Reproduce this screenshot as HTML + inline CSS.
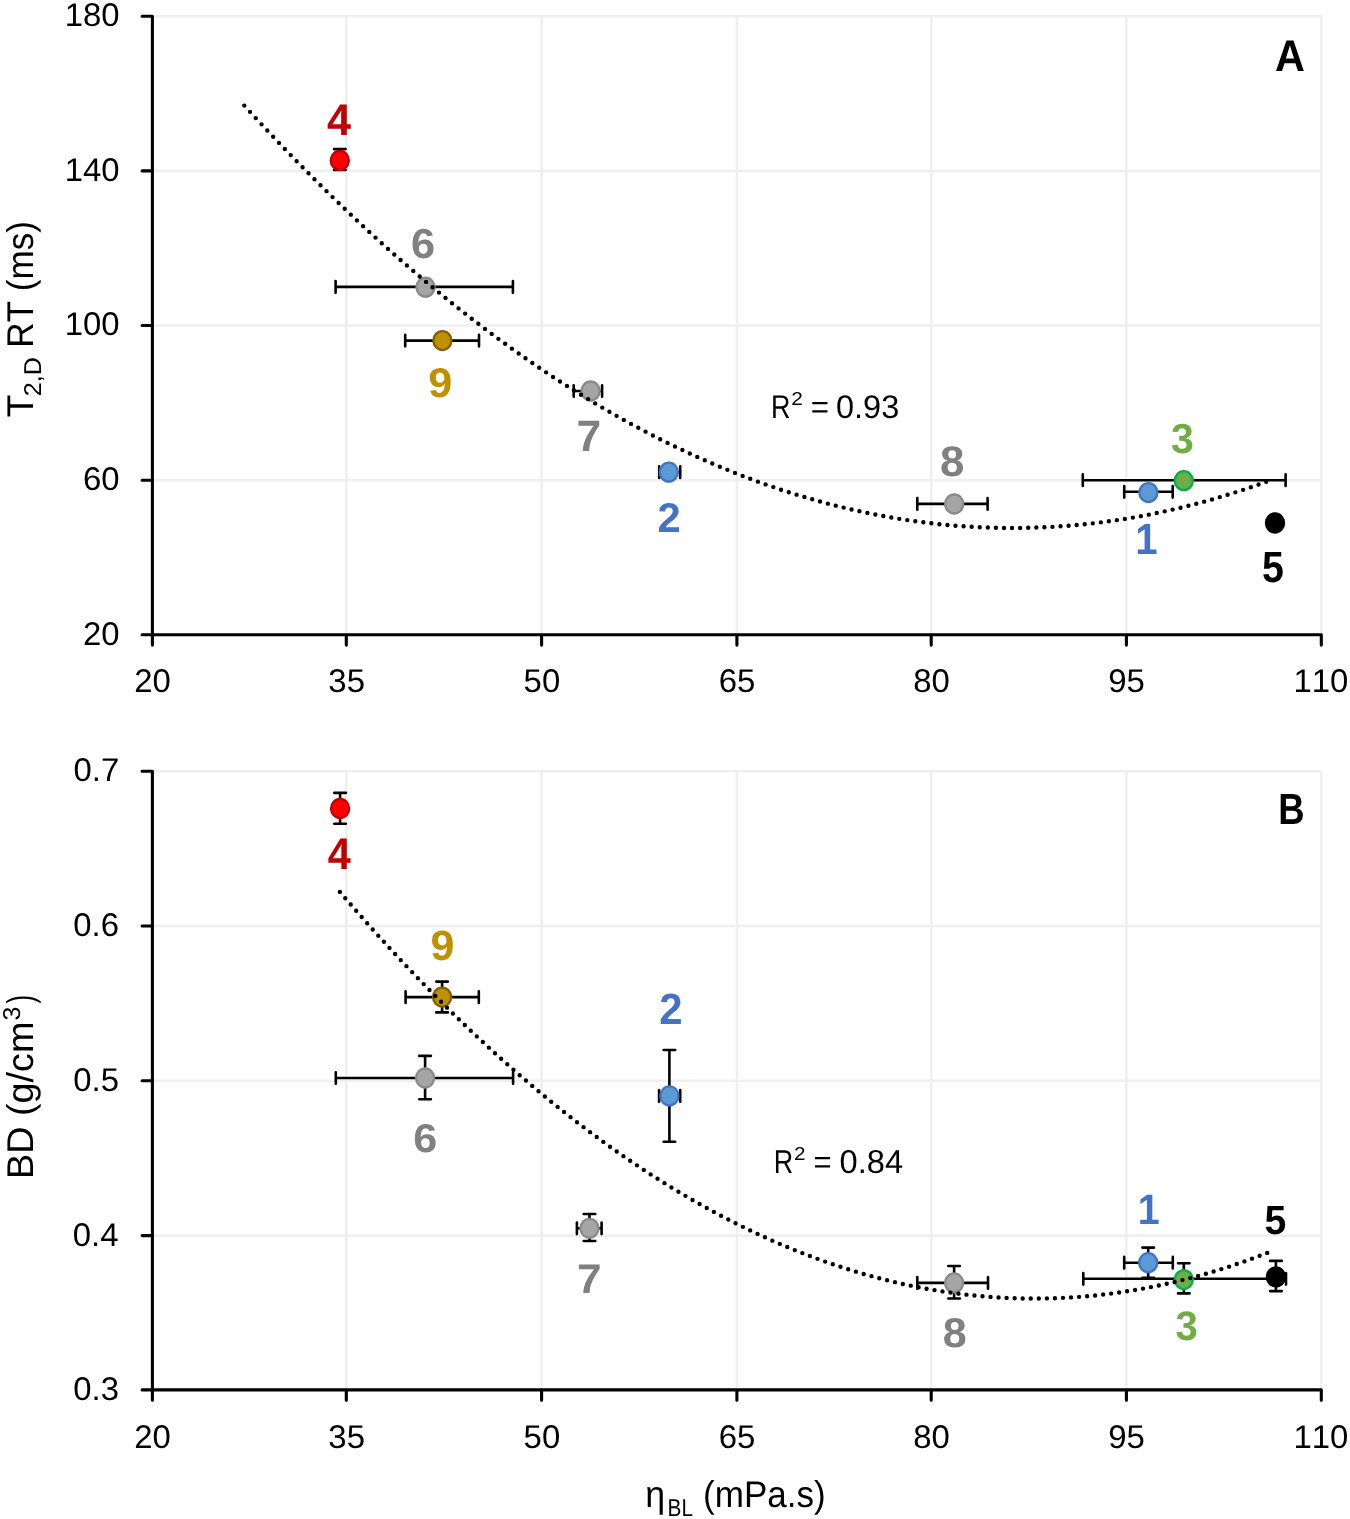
<!DOCTYPE html>
<html><head><meta charset="utf-8"><title>chart</title>
<style>html,body{margin:0;padding:0;background:#fff;width:1350px;height:1519px;overflow:hidden}
svg text{font-family:"Liberation Sans",sans-serif}</style></head>
<body><svg width="1350" height="1519" viewBox="0 0 1350 1519" style="display:block;will-change:transform;font-family:'Liberation Sans', sans-serif;font-kerning:none;text-rendering:geometricPrecision"><rect width="100%" height="100%" fill="#fff"/><path d="M346.30 16.20V634.80M541.60 16.20V634.80M736.90 16.20V634.80M931.20 16.20V634.80M1126.40 16.20V634.80M1321.30 16.20V634.80M152.40 16.20H1321.30M152.40 170.90H1321.30M152.40 325.45H1321.30M152.40 480.30H1321.30M346.30 771.30V1389.90M541.60 771.30V1389.90M736.90 771.30V1389.90M931.20 771.30V1389.90M1126.40 771.30V1389.90M1321.30 771.30V1389.90M152.40 771.30H1321.30M152.40 926.00H1321.30M152.40 1080.70H1321.30M152.40 1235.60H1321.30" stroke="#efefef" stroke-width="2.6" fill="none"/>
<path d="M142.10 16.20H152.40V645.10M142.10 634.80H1321.30V645.10M142.10 170.90H152.40M142.10 325.45H152.40M142.10 480.30H152.40M346.30 634.80V645.10M541.60 634.80V645.10M736.90 634.80V645.10M931.20 634.80V645.10M1126.40 634.80V645.10" stroke="#000" stroke-width="3.10" fill="none" stroke-linecap="round" stroke-linejoin="round"/>
<path d="M142.10 771.30H152.40V1400.20M142.10 1389.90H1321.30V1400.20M142.10 926.00H152.40M142.10 1080.70H152.40M142.10 1235.60H152.40M346.30 1389.90V1400.20M541.60 1389.90V1400.20M736.90 1389.90V1400.20M931.20 1389.90V1400.20M1126.40 1389.90V1400.20" stroke="#000" stroke-width="3.10" fill="none" stroke-linecap="round" stroke-linejoin="round"/>
<text transform="translate(134.22 692.18) scale(1.0000 1)" font-size="32.90" font-weight="normal" fill="#000">20</text>
<text transform="translate(134.22 1447.98) scale(1.0000 1)" font-size="32.90" font-weight="normal" fill="#000">20</text>
<text transform="translate(328.37 692.18) scale(1.0000 1)" font-size="32.90" font-weight="normal" fill="#000">35</text>
<text transform="translate(328.37 1447.98) scale(1.0000 1)" font-size="32.90" font-weight="normal" fill="#000">35</text>
<text transform="translate(523.59 692.18) scale(1.0000 1)" font-size="32.90" font-weight="normal" fill="#000">50</text>
<text transform="translate(523.59 1447.98) scale(1.0000 1)" font-size="32.90" font-weight="normal" fill="#000">50</text>
<text transform="translate(718.76 692.18) scale(1.0000 1)" font-size="32.90" font-weight="normal" fill="#000">65</text>
<text transform="translate(718.76 1447.98) scale(1.0000 1)" font-size="32.90" font-weight="normal" fill="#000">65</text>
<text transform="translate(913.13 692.18) scale(1.0000 1)" font-size="32.90" font-weight="normal" fill="#000">80</text>
<text transform="translate(913.13 1447.98) scale(1.0000 1)" font-size="32.90" font-weight="normal" fill="#000">80</text>
<text transform="translate(1108.32 692.18) scale(1.0000 1)" font-size="32.90" font-weight="normal" fill="#000">95</text>
<text transform="translate(1108.32 1447.98) scale(1.0000 1)" font-size="32.90" font-weight="normal" fill="#000">95</text>
<text transform="translate(1293.54 692.18) scale(1.0000 1)" font-size="32.90" font-weight="normal" fill="#000">110</text>
<text transform="translate(1293.54 1447.98) scale(1.0000 1)" font-size="32.90" font-weight="normal" fill="#000">110</text>
<text transform="translate(64.69 26.13) scale(1.0000 1)" font-size="32.90" font-weight="normal" fill="#000">180</text>
<text transform="translate(64.69 180.83) scale(1.0000 1)" font-size="32.90" font-weight="normal" fill="#000">140</text>
<text transform="translate(64.69 335.38) scale(1.0000 1)" font-size="32.90" font-weight="normal" fill="#000">100</text>
<text transform="translate(82.99 490.23) scale(1.0000 1)" font-size="32.90" font-weight="normal" fill="#000">60</text>
<text transform="translate(82.99 644.73) scale(1.0000 1)" font-size="32.90" font-weight="normal" fill="#000">20</text>
<text transform="translate(73.52 781.23) scale(1.0000 1)" font-size="32.90" font-weight="normal" fill="#000">0.7</text>
<text transform="translate(73.31 935.93) scale(1.0000 1)" font-size="32.90" font-weight="normal" fill="#000">0.6</text>
<text transform="translate(73.25 1090.63) scale(1.0000 1)" font-size="32.90" font-weight="normal" fill="#000">0.5</text>
<text transform="translate(72.83 1245.53) scale(1.0000 1)" font-size="32.90" font-weight="normal" fill="#000">0.4</text>
<text transform="translate(73.31 1399.83) scale(1.0000 1)" font-size="32.90" font-weight="normal" fill="#000">0.3</text>
<path d="M339.80 149.10V170.00M334.00 149.10h11.60M334.00 170.00h11.60M335.60 286.90H512.90M335.60 281.10v11.60M512.90 281.10v11.60M405.20 340.60H479.00M405.20 334.80v11.60M479.00 334.80v11.60M573.70 391.00H602.10M573.70 385.20v11.60M602.10 385.20v11.60M659.20 472.20H680.20M659.20 466.40v11.60M680.20 466.40v11.60M917.30 503.90H987.60M917.30 498.10v11.60M987.60 498.10v11.60M1082.80 480.20H1285.60M1082.80 474.40v11.60M1285.60 474.40v11.60M1124.20 491.80H1172.70M1124.20 486.00v11.60M1172.70 486.00v11.60M340.10 792.90V823.80M334.30 792.90h11.60M334.30 823.80h11.60M405.60 997.10H478.80M405.60 991.30v11.60M478.80 991.30v11.60M442.10 981.60V1012.40M436.30 981.60h11.60M436.30 1012.40h11.60M335.80 1078.00H513.10M335.80 1072.20v11.60M513.10 1072.20v11.60M425.10 1055.90V1099.30M419.30 1055.90h11.60M419.30 1099.30h11.60M669.40 1050.00V1141.70M663.60 1050.00h11.60M663.60 1141.70h11.60M659.10 1095.90H680.20M659.10 1090.10v11.60M680.20 1090.10v11.60M589.50 1214.00V1241.00M583.70 1214.00h11.60M583.70 1241.00h11.60M576.90 1228.30H601.60M576.90 1222.50v11.60M601.60 1222.50v11.60M917.30 1282.90H988.00M917.30 1277.10v11.60M988.00 1277.10v11.60M954.10 1266.00V1298.50M948.30 1266.00h11.60M948.30 1298.50h11.60M1124.20 1262.70H1172.80M1124.20 1256.90v11.60M1172.80 1256.90v11.60M1148.20 1247.60V1277.80M1142.40 1247.60h11.60M1142.40 1277.80h11.60M1083.30 1278.80H1286.00M1083.30 1273.00v11.60M1286.00 1273.00v11.60M1183.80 1263.20V1293.40M1178.00 1263.20h11.60M1178.00 1293.40h11.60M1275.90 1260.90V1291.10M1270.10 1260.90h11.60M1270.10 1291.10h11.60" stroke="#000" stroke-width="2.60" fill="none" stroke-linecap="round"/>
<ellipse cx="339.80" cy="160.40" rx="9.05" ry="9.50" fill="#ff0000" stroke="#c00000" stroke-width="2.30"/>
<ellipse cx="425.50" cy="287.20" rx="9.05" ry="9.50" fill="#a5a5a5" stroke="#8a8a8a" stroke-width="2.30"/>
<ellipse cx="442.40" cy="340.60" rx="9.05" ry="9.50" fill="#bf9000" stroke="#7f6000" stroke-width="2.30"/>
<ellipse cx="590.60" cy="391.00" rx="9.05" ry="9.50" fill="#a5a5a5" stroke="#8a8a8a" stroke-width="2.30"/>
<ellipse cx="668.80" cy="472.20" rx="9.05" ry="9.50" fill="#5b9bd5" stroke="#4472c4" stroke-width="2.30"/>
<ellipse cx="954.20" cy="504.00" rx="9.05" ry="9.50" fill="#a5a5a5" stroke="#8a8a8a" stroke-width="2.30"/>
<ellipse cx="1183.80" cy="480.70" rx="9.05" ry="9.50" fill="#70ad47" stroke="#00b050" stroke-width="2.30"/>
<ellipse cx="1148.40" cy="492.60" rx="9.05" ry="9.50" fill="#5b9bd5" stroke="#4472c4" stroke-width="2.30"/>
<ellipse cx="1275.00" cy="523.00" rx="9.05" ry="9.50" fill="#000000" stroke="#000000" stroke-width="2.30"/>
<ellipse cx="340.10" cy="808.50" rx="9.05" ry="9.50" fill="#ff0000" stroke="#c00000" stroke-width="2.30"/>
<ellipse cx="442.10" cy="997.10" rx="9.05" ry="9.50" fill="#bf9000" stroke="#7f6000" stroke-width="2.30"/>
<ellipse cx="425.10" cy="1078.00" rx="9.05" ry="9.50" fill="#a5a5a5" stroke="#8a8a8a" stroke-width="2.30"/>
<ellipse cx="669.40" cy="1095.90" rx="9.05" ry="9.50" fill="#5b9bd5" stroke="#4472c4" stroke-width="2.30"/>
<ellipse cx="589.50" cy="1228.30" rx="9.05" ry="9.50" fill="#a5a5a5" stroke="#8a8a8a" stroke-width="2.30"/>
<ellipse cx="954.10" cy="1282.90" rx="9.05" ry="9.50" fill="#a5a5a5" stroke="#8a8a8a" stroke-width="2.30"/>
<ellipse cx="1148.20" cy="1262.70" rx="9.05" ry="9.50" fill="#5b9bd5" stroke="#4472c4" stroke-width="2.30"/>
<ellipse cx="1183.80" cy="1279.60" rx="9.05" ry="9.50" fill="#70ad47" stroke="#00b050" stroke-width="2.30"/>
<ellipse cx="1275.90" cy="1276.90" rx="9.05" ry="9.50" fill="#000000" stroke="#000000" stroke-width="2.30"/>
<path d="M244.30 105.59h0M250.03 111.87h0M255.78 118.12h0M261.55 124.35h0M267.34 130.56h0M273.15 136.74h0M278.99 142.89h0M284.85 149.02h0M290.73 155.12h0M296.63 161.20h0M302.56 167.25h0M308.51 173.27h0M314.48 179.27h0M320.48 185.23h0M326.50 191.17h0M332.54 197.08h0M338.60 202.96h0M344.69 208.81h0M350.81 214.63h0M356.95 220.42h0M363.11 226.17h0M369.30 231.90h0M375.51 237.59h0M381.74 243.25h0M388.00 248.88h0M394.29 254.47h0M400.60 260.03h0M406.94 265.55h0M413.30 271.04h0M419.69 276.49h0M426.10 281.91h0M432.54 287.28h0M439.01 292.62h0M445.50 297.92h0M452.02 303.18h0M458.57 308.41h0M465.14 313.59h0M471.73 318.73h0M478.36 323.82h0M485.01 328.88h0M491.69 333.89h0M498.40 338.86h0M505.13 343.78h0M511.89 348.66h0M518.68 353.49h0M525.49 358.28h0M532.33 363.01h0M539.20 367.70h0M546.10 372.34h0M553.03 376.93h0M559.98 381.47h0M566.96 385.96h0M573.97 390.39h0M581.00 394.78h0M588.07 399.10h0M595.16 403.38h0M602.28 407.59h0M609.42 411.75h0M616.60 415.85h0M623.80 419.90h0M631.03 423.88h0M638.28 427.81h0M645.56 431.67h0M652.87 435.47h0M660.21 439.21h0M667.57 442.88h0M674.96 446.49h0M682.38 450.04h0M689.82 453.51h0M697.28 456.92h0M704.78 460.26h0M712.30 463.53h0M719.84 466.73h0M727.41 469.86h0M735.00 472.92h0M742.62 475.90h0M750.26 478.81h0M757.92 481.65h0M765.61 484.40h0M773.32 487.09h0M781.05 489.69h0M788.80 492.21h0M796.57 494.66h0M804.37 497.02h0M812.18 499.31h0M820.01 501.51h0M827.87 503.63h0M835.74 505.66h0M843.62 507.61h0M851.53 509.48h0M859.45 511.26h0M867.39 512.95h0M875.34 514.55h0M883.31 516.07h0M891.29 517.50h0M899.28 518.84h0M907.28 520.09h0M915.30 521.25h0M923.33 522.32h0M931.36 523.29h0M939.41 524.18h0M947.46 524.97h0M955.52 525.68h0M963.59 526.29h0M971.66 526.80h0M979.73 527.23h0M987.81 527.56h0M995.89 527.79h0M1003.98 527.94h0M1012.06 527.98h0M1020.15 527.94h0M1028.23 527.80h0M1036.31 527.57h0M1044.39 527.25h0M1052.47 526.83h0M1060.54 526.32h0M1068.61 525.71h0M1076.67 525.02h0M1084.72 524.23h0M1092.77 523.35h0M1100.80 522.37h0M1108.83 521.31h0M1116.85 520.16h0M1124.85 518.91h0M1132.84 517.58h0M1140.83 516.15h0M1148.79 514.64h0M1156.75 513.04h0M1164.68 511.35h0M1172.61 509.58h0M1180.51 507.72h0M1188.40 505.77h0M1196.27 503.74h0M1204.13 501.63h0M1211.96 499.43h0M1219.78 497.15h0M1227.57 494.79h0M1235.35 492.35h0M1243.10 489.83h0M1250.83 487.23h0M1258.54 484.56h0M1266.23 481.80h0M339.86 891.89h0M345.28 898.21h0M350.72 904.50h0M356.18 910.77h0M361.67 917.02h0M367.18 923.25h0M372.72 929.45h0M378.28 935.63h0M383.87 941.78h0M389.48 947.91h0M395.11 954.01h0M400.77 960.08h0M406.46 966.13h0M412.17 972.15h0M417.91 978.14h0M423.68 984.10h0M429.47 990.04h0M435.29 995.94h0M441.13 1001.82h0M447.00 1007.66h0M452.90 1013.48h0M458.83 1019.26h0M464.79 1025.01h0M470.77 1030.72h0M476.78 1036.40h0M482.82 1042.05h0M488.89 1047.67h0M494.99 1053.24h0M501.12 1058.78h0M507.28 1064.29h0M513.46 1069.75h0M519.68 1075.18h0M525.93 1080.57h0M532.21 1085.92h0M538.52 1091.23h0M544.86 1096.50h0M551.23 1101.72h0M557.63 1106.90h0M564.07 1112.04h0M570.53 1117.13h0M577.03 1122.18h0M583.56 1127.17h0M590.12 1132.13h0M596.72 1137.03h0M603.34 1141.88h0M610.00 1146.68h0M616.70 1151.44h0M623.42 1156.13h0M630.18 1160.78h0M636.97 1165.37h0M643.80 1169.90h0M650.66 1174.38h0M657.55 1178.80h0M664.48 1183.16h0M671.43 1187.46h0M678.43 1191.70h0M685.45 1195.87h0M692.51 1199.98h0M699.61 1204.03h0M706.73 1208.01h0M713.89 1211.92h0M721.09 1215.76h0M728.31 1219.54h0M735.57 1223.24h0M742.86 1226.87h0M750.18 1230.42h0M757.54 1233.90h0M764.93 1237.31h0M772.35 1240.63h0M779.80 1243.88h0M787.28 1247.04h0M794.79 1250.12h0M802.33 1253.12h0M809.90 1256.04h0M817.50 1258.86h0M825.13 1261.61h0M832.79 1264.26h0M840.47 1266.82h0M848.18 1269.29h0M855.92 1271.67h0M863.68 1273.96h0M871.47 1276.15h0M879.27 1278.24h0M887.11 1280.24h0M894.96 1282.14h0M902.83 1283.94h0M910.73 1285.63h0M918.64 1287.23h0M926.57 1288.73h0M934.52 1290.12h0M942.48 1291.41h0M950.46 1292.59h0M958.45 1293.67h0M966.45 1294.64h0M974.46 1295.51h0M982.49 1296.26h0M990.52 1296.91h0M998.56 1297.45h0M1006.60 1297.89h0M1014.65 1298.21h0M1022.70 1298.43h0M1030.76 1298.53h0M1038.81 1298.53h0M1046.87 1298.41h0M1054.92 1298.19h0M1062.97 1297.86h0M1071.01 1297.42h0M1079.05 1296.87h0M1087.08 1296.21h0M1095.10 1295.44h0M1103.12 1294.57h0M1111.12 1293.59h0M1119.11 1292.51h0M1127.08 1291.31h0M1135.05 1290.02h0M1142.99 1288.62h0M1150.92 1287.11h0M1158.83 1285.51h0M1166.72 1283.80h0M1174.60 1281.99h0M1182.45 1280.09h0M1190.28 1278.08h0M1198.09 1275.98h0M1205.87 1273.78h0M1213.63 1271.49h0M1221.36 1269.11h0M1229.07 1266.63h0M1236.75 1264.06h0M1244.41 1261.40h0M1252.03 1258.65h0M1259.63 1255.82h0M1267.20 1252.89h0" stroke="#000" stroke-width="4.40" stroke-linecap="round" fill="none"/>
<text transform="translate(326.95 135.40) scale(0.9696 1)" font-size="44.48" font-weight="bold" fill="#c00000">4</text>
<text transform="translate(410.91 258.49) scale(1.0391 1)" font-size="41.81" font-weight="bold" fill="#808080">6</text>
<text transform="translate(428.20 396.89) scale(1.0356 1)" font-size="41.67" font-weight="bold" fill="#bf9000">9</text>
<text transform="translate(576.50 450.60) scale(1.0098 1)" font-size="43.90" font-weight="bold" fill="#808080">7</text>
<text transform="translate(657.55 531.80) scale(1.0052 1)" font-size="41.53" font-weight="bold" fill="#4472c4">2</text>
<text transform="translate(939.90 476.48) scale(1.0306 1)" font-size="42.65" font-weight="bold" fill="#808080">8</text>
<text transform="translate(1170.96 452.93) scale(0.9771 1)" font-size="42.00" font-weight="bold" fill="#70ad47">3</text>
<text transform="translate(1135.27 554.00) scale(0.9247 1)" font-size="43.46" font-weight="bold" fill="#4472c4">1</text>
<text transform="translate(1262.09 582.17) scale(0.9012 1)" font-size="43.71" font-weight="bold" fill="#000000">5</text>
<text transform="translate(327.67 869.30) scale(0.9380 1)" font-size="44.19" font-weight="bold" fill="#c00000">4</text>
<text transform="translate(430.41 959.89) scale(1.0134 1)" font-size="42.37" font-weight="bold" fill="#bf9000">9</text>
<text transform="translate(413.22 1151.91) scale(1.0741 1)" font-size="40.25" font-weight="bold" fill="#808080">6</text>
<text transform="translate(659.15 1024.30) scale(0.9574 1)" font-size="43.82" font-weight="bold" fill="#4472c4">2</text>
<text transform="translate(577.10 1293.00) scale(1.0687 1)" font-size="41.28" font-weight="bold" fill="#808080">7</text>
<text transform="translate(942.63 1347.39) scale(1.0391 1)" font-size="41.52" font-weight="bold" fill="#808080">8</text>
<text transform="translate(1137.72 1224.40) scale(0.9234 1)" font-size="42.59" font-weight="bold" fill="#4472c4">1</text>
<text transform="translate(1264.39 1233.80) scale(0.9629 1)" font-size="40.70" font-weight="bold" fill="#000000">5</text>
<text transform="translate(1175.38 1340.44) scale(0.9694 1)" font-size="41.30" font-weight="bold" fill="#70ad47">3</text>
<text transform="translate(1275.07 70.90) scale(0.9347 1)" font-size="44.33" font-weight="bold" fill="#000">A</text>
<text transform="translate(1278.36 824.40) scale(0.8376 1)" font-size="43.46" font-weight="bold" fill="#000">B</text>
<text transform="translate(771.09 417.70) scale(0.8203 1)" font-size="32.85" font-weight="normal" fill="#000">R</text>
<text transform="translate(791.15 404.90) scale(1.1200 1)" font-size="18.62" font-weight="normal" fill="#000">2</text>
<text transform="translate(810.87 417.89) scale(0.9538 1)" font-size="32.80" font-weight="normal" fill="#000">=</text>
<text transform="translate(836.03 417.68) scale(0.9909 1)" font-size="32.77" font-weight="normal" fill="#000">0.93</text>
<text transform="translate(773.79 1173.20) scale(0.8131 1)" font-size="33.14" font-weight="normal" fill="#000">R</text>
<text transform="translate(793.96 1159.60) scale(1.1083 1)" font-size="18.62" font-weight="normal" fill="#000">2</text>
<text transform="translate(813.58 1173.24) scale(0.9476 1)" font-size="32.80" font-weight="normal" fill="#000">=</text>
<text transform="translate(839.62 1173.18) scale(0.9877 1)" font-size="33.05" font-weight="normal" fill="#000">0.84</text>
<text transform="translate(32.60 417.34) rotate(-90) scale(1.0000 1)" font-size="37.20" font-weight="normal" fill="#000">T</text>
<text transform="translate(40.90 396.16) rotate(-90) scale(1.0260 1)" font-size="24.40" font-weight="normal" fill="#000">2,D</text>
<text transform="translate(32.60 347.68) rotate(-90) scale(0.9424 1)" font-size="37.20" font-weight="normal" fill="#000">RT (ms)</text>
<text transform="translate(32.80 1178.90) rotate(-90) scale(1.0147 1)" font-size="37.20" font-weight="normal" fill="#000">BD (g/cm</text>
<text transform="translate(20.00 1020.45) rotate(-90) scale(1.0200 1)" font-size="24.40" font-weight="normal" fill="#000">3</text>
<text transform="translate(32.80 1003.55) rotate(-90) scale(0.6996 1)" font-size="37.20" font-weight="normal" fill="#000">)</text>
<text transform="translate(645.25 1507.00) scale(0.9604 1)" font-size="37.20" font-weight="normal" fill="#000">η</text>
<text transform="translate(667.59 1515.90) scale(0.8545 1)" font-size="24.40" font-weight="normal" fill="#000">BL</text>
<text transform="translate(703.03 1507.00) scale(0.9428 1)" font-size="37.20" font-weight="normal" fill="#000">(mPa.s)</text></svg></body></html>
